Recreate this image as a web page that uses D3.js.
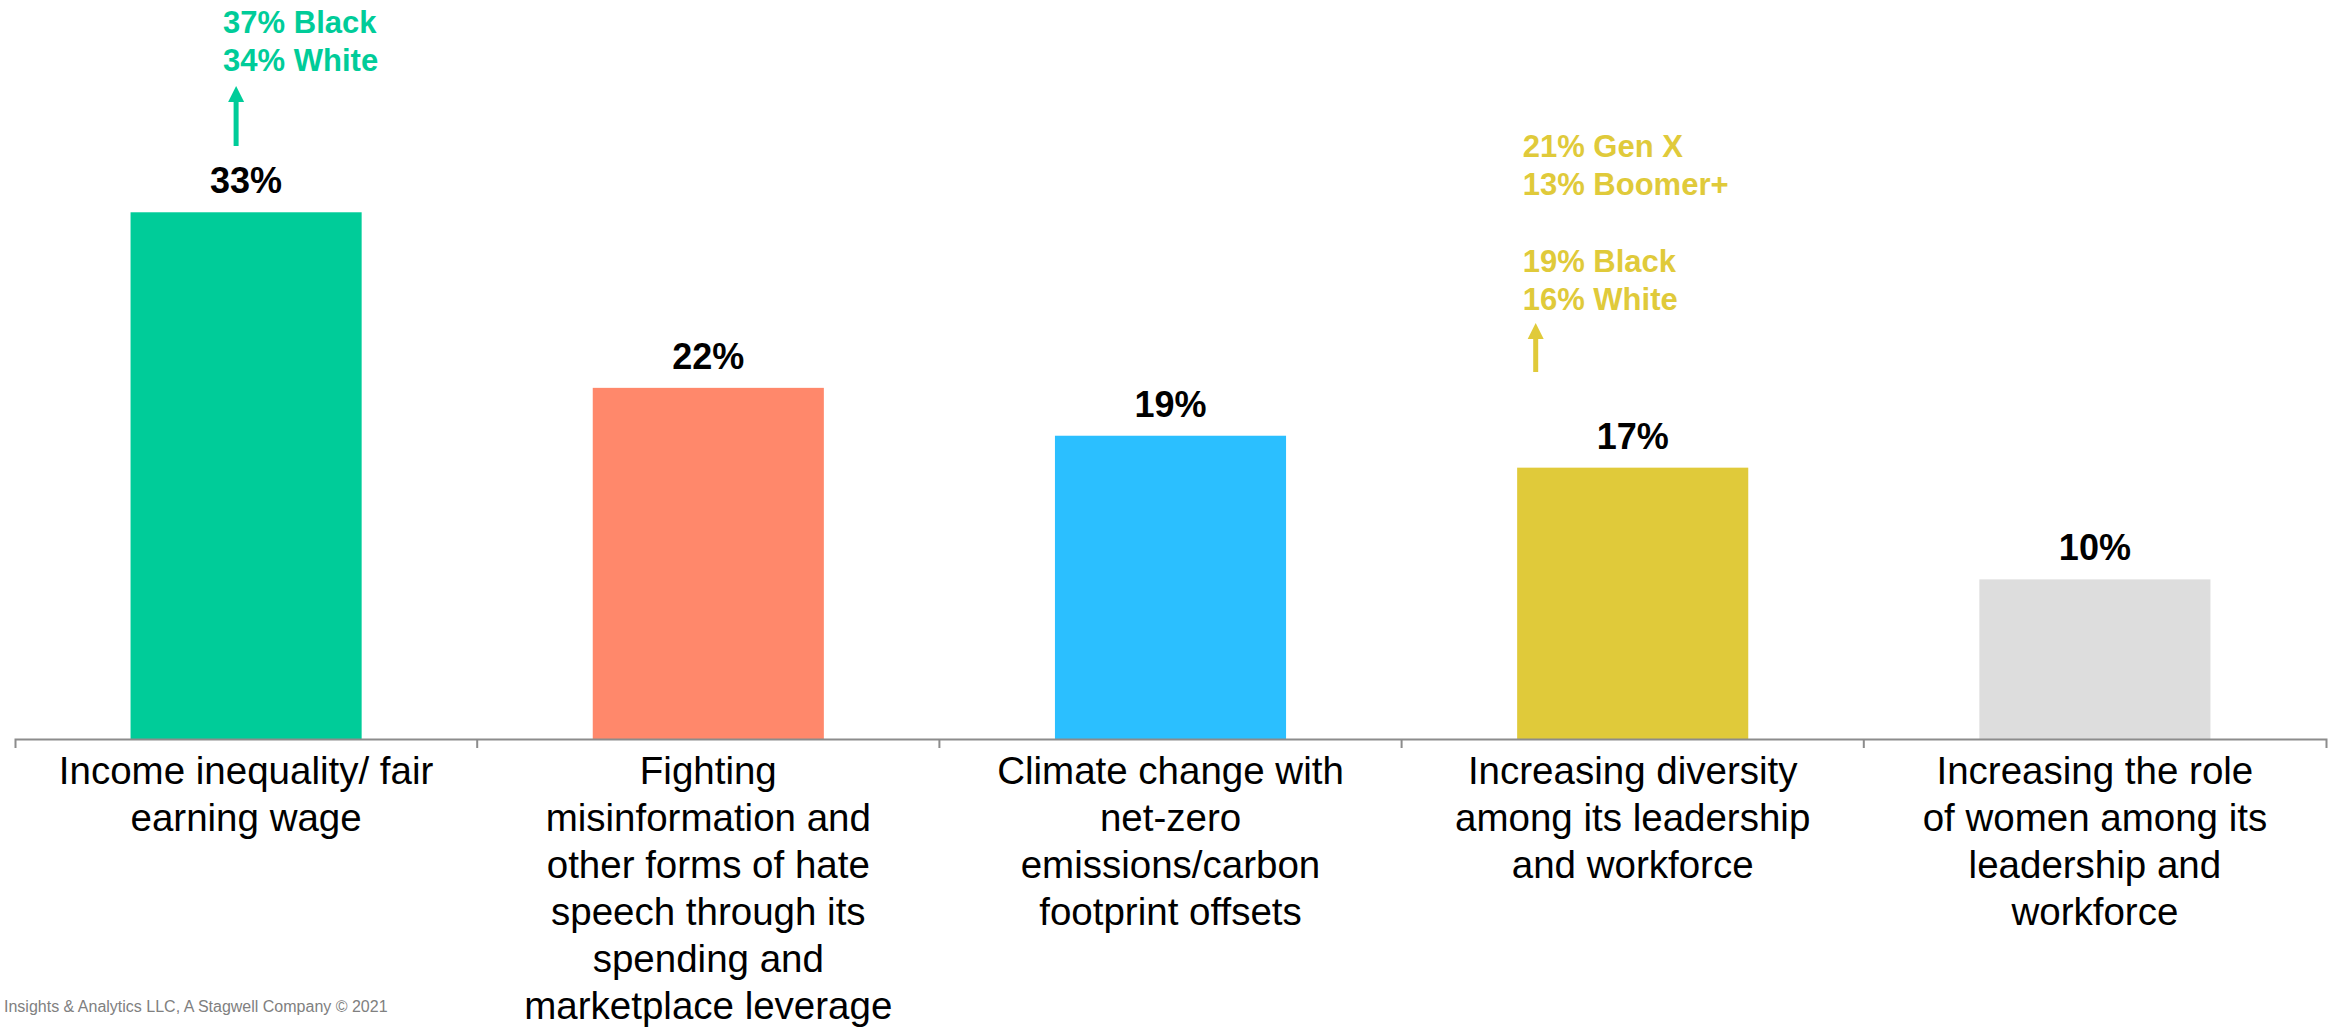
<!DOCTYPE html>
<html>

<head>
    <meta charset="utf-8">
    <title>Priorities chart</title>
    <script type="text/javascript" src="https://cdn.jsdelivr.net/npm/d3@7/dist/d3.min.js"></script>
    <style>
        html, body {
            margin: 0;
            padding: 0;
            background: #ffffff;
            overflow: hidden;
        }
        text {
            font-family: "Liberation Sans", Arial, sans-serif;
        }
    </style>
</head>

<body>
    <div id="chart_div"></div>
    <script type="text/javascript">
        // data
        const categories = [
            "Income inequality/ fair earning wage",
            "Fighting misinformation and other forms of hate speech through its spending and marketplace leverage",
            "Climate change with net-zero emissions/carbon footprint offsets",
            "Increasing diversity among its leadership and workforce",
            "Increasing the role of women among its leadership and workforce"
        ];
        const values = [33, 22, 19, 17, 10];
        const barColors = ["#00cc99", "#ff886b", "#2bbfff", "#e0ca3a", "#dddddd"];

        // tick labels as they wrap in the picture
        const tickLines = [
            ["Income inequality/ fair", "earning wage"],
            ["Fighting", "misinformation and", "other forms of hate", "speech through its", "spending and", "marketplace leverage"],
            ["Climate change with", "net-zero", "emissions/carbon", "footprint offsets"],
            ["Increasing diversity", "among its leadership", "and workforce"],
            ["Increasing the role", "of women among its", "leadership and", "workforce"]
        ];

        // subgroup call-outs
        const incomeNotes = ["37% Black", "34% White"];
        const diversityNotes = ["21% Gen X", "13% Boomer+", "", "19% Black", "16% White"];

        const footer = "Insights & Analytics LLC, A Stagwell Company \u00a9 2021";

        const width = 2335;
        const height = 1031;
        const axisY = 739;

        const svg = d3.select("#chart_div").append("svg")
            .attr("width", width)
            .attr("height", height);

        const x = d3.scaleBand()
            .domain(categories)
            .range([15, 2326])
            .paddingInner(0.5)
            .paddingOuter(0.25);

        const y = d3.scaleLinear()
            .domain([0, 46.3])
            .range([axisY, 0]);

        // bars
        svg.append("g")
            .selectAll("rect")
            .data(values)
            .enter().append("rect")
            .attr("x", (d, i) => x(categories[i]))
            .attr("y", d => y(d))
            .attr("width", x.bandwidth())
            .attr("height", d => y(0) - y(d))
            .attr("fill", (d, i) => barColors[i]);

        // value labels
        svg.append("g")
            .selectAll("text")
            .data(values)
            .enter().append("text")
            .attr("x", (d, i) => x(categories[i]) + x.bandwidth() / 2)
            .attr("y", d => y(d) - 19)
            .attr("text-anchor", "middle")
            .attr("font-size", 36)
            .attr("font-weight", "bold")
            .attr("fill", "#000")
            .text(d => d + "%");

        // axis line with ticks between categories
        const axis = svg.append("g")
            .attr("transform", `translate(0,${axisY})`)
            .call(d3.axisBottom(x).tickSize(0).tickSizeOuter(9).tickFormat(""));
        axis.select(".domain")
            .attr("stroke", "#8c8c8c")
            .attr("stroke-width", 2);

        const bounds = d3.range(1, categories.length).map(i => x.range()[0] + i * x.step());
        axis.selectAll(".sep")
            .data(bounds)
            .enter().append("line")
            .attr("class", "sep")
            .attr("x1", d => d)
            .attr("x2", d => d)
            .attr("y1", 0)
            .attr("y2", 9)
            .attr("stroke", "#8c8c8c")
            .attr("stroke-width", 2);

        // category labels
        const labels = svg.append("g")
            .selectAll("text")
            .data(tickLines)
            .enter().append("text")
            .attr("text-anchor", "middle")
            .attr("font-size", 38.5)
            .attr("fill", "#000");

        labels.each(function (lines, i) {
            const cx = x(categories[i]) + x.bandwidth() / 2;
            d3.select(this).selectAll("tspan")
                .data(lines)
                .enter().append("tspan")
                .attr("x", cx)
                .attr("y", (d, j) => 784 + j * 47)
                .text(d => d);
        });

        // call-outs with arrows
        function callout(catIndex, notes, color, dx, textTop, arrowTop, arrowBottom) {
            const cx = x(categories[catIndex]) + x.bandwidth() / 2;
            const g = svg.append("g");
            g.append("text")
                .attr("font-size", 31)
                .attr("font-weight", "bold")
                .attr("fill", color)
                .selectAll("tspan")
                .data(notes)
                .enter().append("tspan")
                .attr("x", cx + dx)
                .attr("y", (d, j) => textTop + j * 38.3)
                .text(d => d);

            const ax = cx + dx + 13;
            g.append("line")
                .attr("x1", ax)
                .attr("x2", ax)
                .attr("y1", arrowBottom)
                .attr("y2", arrowTop + 12)
                .attr("stroke", color)
                .attr("stroke-width", 5);
            g.append("path")
                .attr("d", `M${ax},${arrowTop} L${ax - 8},${arrowTop + 16} L${ax + 8},${arrowTop + 16} Z`)
                .attr("fill", color);
        }

        callout(0, incomeNotes, "#00cc99", -23, 33, 86, 146);
        callout(3, diversityNotes, "#e0ca3a", -110, 157, 323, 372);

        // footer
        svg.append("text")
            .attr("x", 4)
            .attr("y", 1012)
            .attr("font-size", 16)
            .attr("fill", "#808080")
            .text(footer);
    </script>
</body>

</html>
